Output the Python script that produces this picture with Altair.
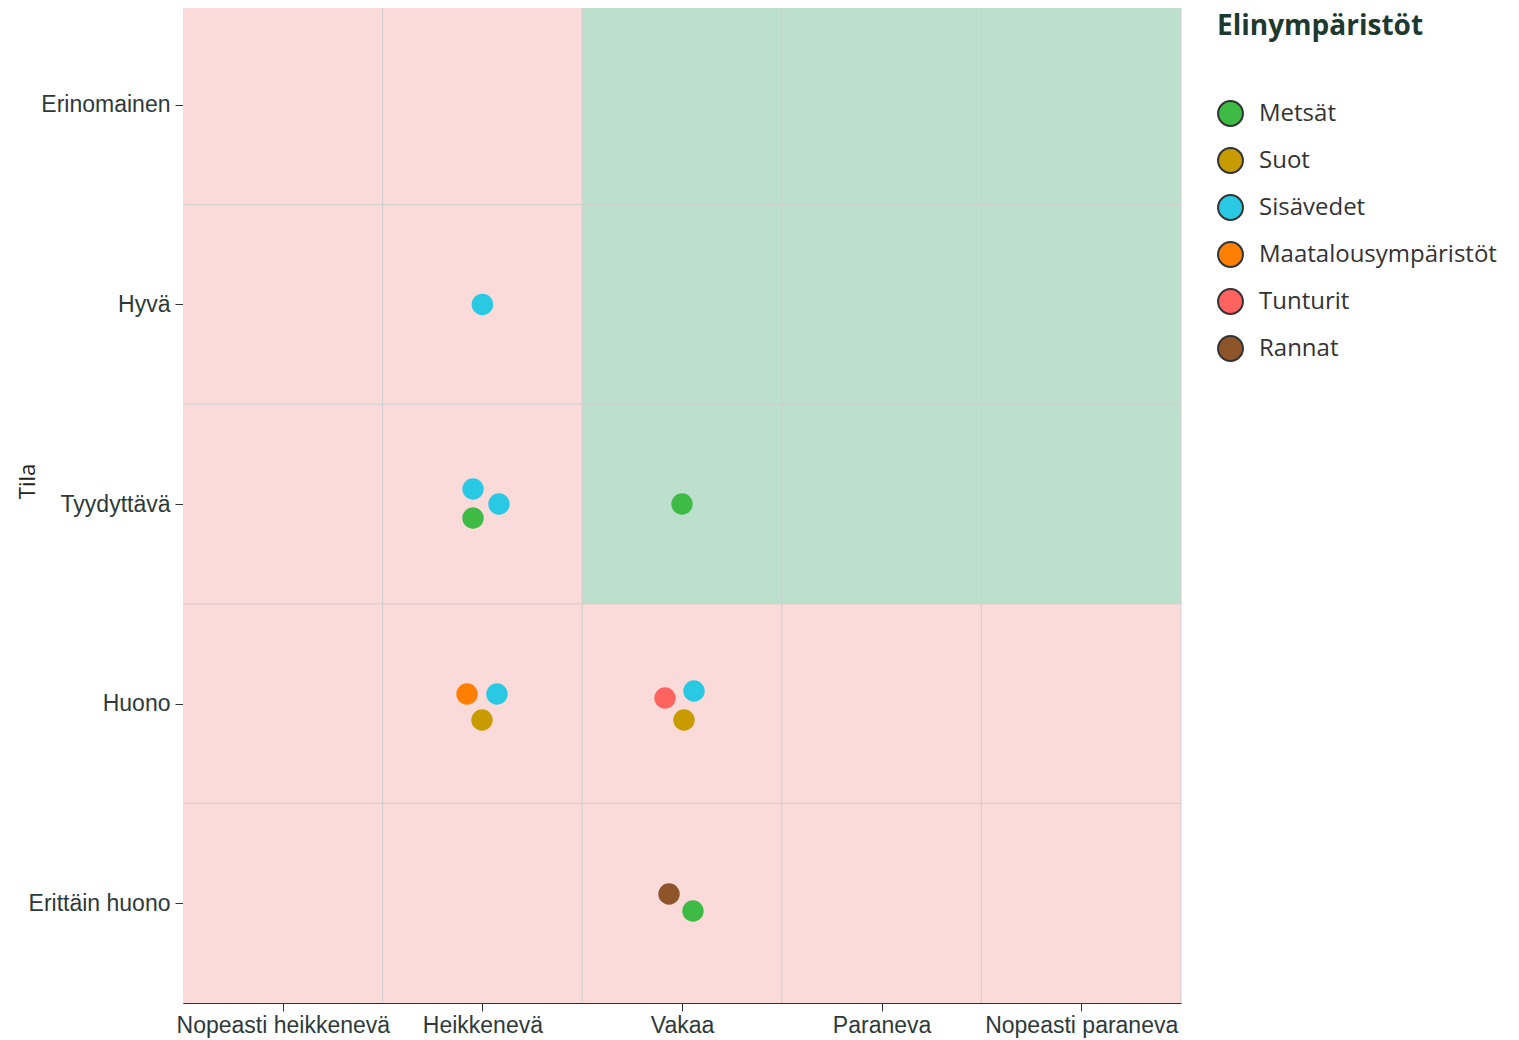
import json
import altair as alt
import pandas as pd

# ---- data -------------------------------------------------------------
trend_labels = ["Nopeasti heikkenevä", "Heikkenevä", "Vakaa", "Paraneva", "Nopeasti paraneva"]  # x = 1..5
state_labels = ["Erittäin huono", "Huono", "Tyydyttävä", "Hyvä", "Erinomainen"]              # y = 1..5

habitats = ["Metsät", "Suot", "Sisävedet", "Maatalousympäristöt", "Tunturit", "Rannat"]
habitat_colors = ["#3dbb44", "#c89b00", "#29c8e3", "#ff8000", "#ff6360", "#8e552a"]

point_habitat = ["Sisävedet", "Sisävedet", "Sisävedet", "Metsät", "Metsät",
                 "Maatalousympäristöt", "Sisävedet", "Suot",
                 "Tunturit", "Sisävedet", "Suot",
                 "Rannat", "Metsät"]
point_trend = [2.00, 1.953, 2.083, 1.953, 3.00,
               1.923, 2.073, 1.998,
               2.915, 3.060, 3.010,
               2.935, 3.055]
point_state = [4.00, 3.075, 3.00, 2.930, 3.00,
               2.048, 2.048, 1.918,
               2.028, 2.063, 1.918,
               1.046, 0.961]

zone_x1 = [0.5, 2.5]
zone_x2 = [5.5, 5.5]
zone_y1 = [0.5, 2.5]
zone_y2 = [5.5, 5.5]
zone_fill = ["#fadbd9", "#bce0cd"]

cell_bounds = [1.5, 2.5, 3.5, 4.5, 5.5]

# ---- frames ------------------------------------------------------------
points = pd.DataFrame({"habitat": point_habitat, "trend": point_trend, "state": point_state})
zones = pd.DataFrame({"trend": zone_x1, "trend2": zone_x2, "state": zone_y1, "state2": zone_y2, "fill": zone_fill})
bounds = pd.DataFrame({"b": cell_bounds})

DOM = [0.5, 5.5]
label_color = "#2e3a3a"

xaxis = alt.Axis(
    title=None, values=[1, 2, 3, 4, 5], grid=False,
    labelExpr=f"{json.dumps(trend_labels, ensure_ascii=False)}[datum.value - 1]",
    labelFont="Liberation Sans", labelFontSize=23, labelColor=label_color,
    labelPadding=3, tickSize=8, tickColor="#333", domainColor="#333",
    labelOverlap=False, labelFlush=False, labelLimit=0,
)
yaxis = alt.Axis(
    title="Tila", values=[1, 2, 3, 4, 5], grid=False,
    labelExpr=f"{json.dumps(state_labels, ensure_ascii=False)}[datum.value - 1]",
    labelFont="Liberation Sans", labelFontSize=23, labelColor=label_color,
    labelPadding=5, tickSize=8, tickColor="#333", domainColor="#333",
    labelOverlap=False, labelFlush=False, labelLimit=0,
    titleFont="Open Sans", titleFontSize=22, titleFontWeight="normal", titleColor="#222",
    titleX=-144, titleY=476, titleAngle=270,
)

xs = alt.Scale(domain=DOM, nice=False, zero=False)
ys = alt.Scale(domain=DOM, nice=False, zero=False)

bg = alt.Chart(zones).mark_rect().encode(
    x=alt.X("trend:Q", scale=xs, axis=xaxis),
    x2="trend2:Q",
    y=alt.Y("state:Q", scale=ys, axis=yaxis),
    y2="state2:Q",
    fill=alt.Fill("fill:N", scale=None),
)

vrules = alt.Chart(bounds).mark_rule(color="#cfcfcf", strokeWidth=1).encode(
    x=alt.X("b:Q", scale=xs, axis=xaxis)
)
hrules = alt.Chart(bounds).mark_rule(color="#cfcfcf", strokeWidth=1).encode(
    y=alt.Y("b:Q", scale=ys, axis=yaxis)
)

dots = alt.Chart(points).mark_circle(size=460, opacity=1).encode(
    x=alt.X("trend:Q", scale=xs, axis=xaxis),
    y=alt.Y("state:Q", scale=ys, axis=yaxis),
    color=alt.Color(
        "habitat:N",
        scale=alt.Scale(domain=habitats, range=habitat_colors),
        sort=habitats,
        legend=alt.Legend(
            title="Elinympäristöt", orient="right", offset=28, padding=8,
            titleFont="Open Sans", titleFontSize=28, titleFontWeight="bold",
            titleColor="#1d3a30", titlePadding=59, titleLimit=400,
            labelFont="Open Sans", labelFontSize=24, labelColor="#333",
            labelOffset=15, rowPadding=14, labelLimit=400,
            symbolType="circle", symbolSize=620,
            symbolStrokeColor="#333", symbolStrokeWidth=2, symbolOpacity=1,
        ),
    ),
)

chart = alt.layer(bg, vrules, hrules, dots).properties(
    width=998, height=998,
    autosize=alt.AutoSizeParams(type="none"),
    padding={"left": 175, "top": -3, "right": 326, "bottom": 37},
).configure_view(stroke=None)

chart.save("out.html", embed_options={"renderer": "svg", "actions": False})
